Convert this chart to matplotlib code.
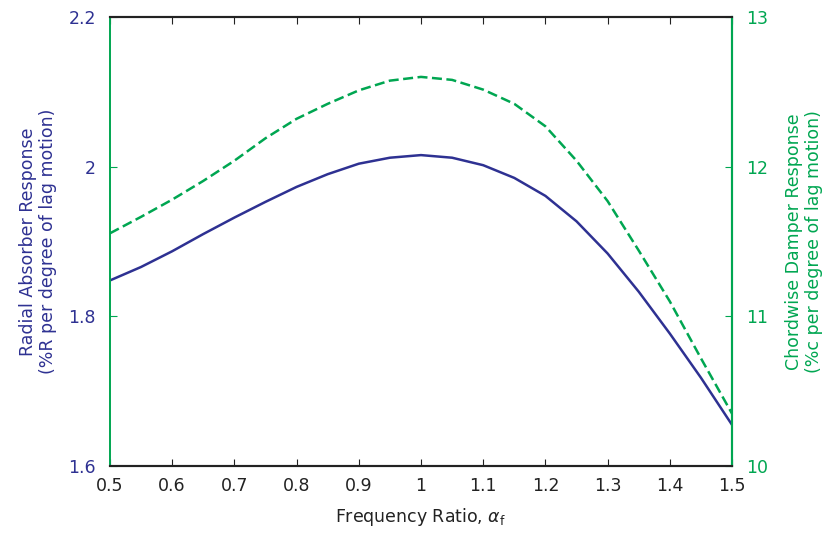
import matplotlib
matplotlib.use("Agg")
import matplotlib.pyplot as plt

plt.rcParams['font.family'] = ['DejaVu Sans']

freq_ratio = [0.50, 0.55, 0.60, 0.65, 0.70, 0.75, 0.80, 0.85, 0.90, 0.95, 1.00,
              1.05, 1.10, 1.15, 1.20, 1.25, 1.30, 1.35, 1.40, 1.45, 1.50]
radial_resp = [1.848, 1.866, 1.887, 1.910, 1.932, 1.953, 1.973, 1.990, 2.004, 2.012, 2.0155,
               2.012, 2.002, 1.985, 1.961, 1.927, 1.884, 1.833, 1.777, 1.718, 1.655]
chord_resp = [11.555, 11.665, 11.78, 11.905, 12.04, 12.19, 12.32, 12.42, 12.51, 12.575, 12.60,
              12.58, 12.515, 12.42, 12.27, 12.04, 11.77, 11.44, 11.10, 10.72, 10.35]

x_ticks = [0.5, 0.6, 0.7, 0.8, 0.9, 1.0, 1.1, 1.2, 1.3, 1.4, 1.5]
x_labels = ['0.5', '0.6', '0.7', '0.8', '0.9', '1', '1.1', '1.2', '1.3', '1.4', '1.5']
left_ticks = [1.6, 1.8, 2.0, 2.2]
left_labels = ['1.6', '1.8', '2', '2.2']
right_ticks = [10, 11, 12, 13]

blue = '#2e3192'
green = '#00a651'
dark = '#222222'

fig = plt.figure(figsize=(8.25, 5.39), dpi=100)
ax = fig.add_axes([0.1333, 0.1354, 0.754, 0.833])
ax2 = ax.twinx()

ax.plot(freq_ratio, radial_resp, color=blue, lw=1.8)
ax2.plot(freq_ratio, chord_resp, color=green, lw=1.8, dashes=(4, 1.8))

ax.set_xlim(0.5, 1.5)
ax.set_ylim(1.6, 2.2)
ax2.set_ylim(10, 13)

ax.set_xticks(x_ticks)
ax.set_xticklabels(x_labels)
ax.set_yticks(left_ticks)
ax.set_yticklabels(left_labels)
ax2.set_yticks(right_ticks)

ax.tick_params(axis='x', direction='in', top=True, length=5, pad=8,
               labelsize=12.5, colors=dark)
ax.tick_params(axis='y', direction='in', length=5, pad=10,
               labelsize=12.5, labelcolor=blue, color=green)
ax2.tick_params(axis='y', direction='in', length=5, pad=10,
                labelsize=12.5, labelcolor=green, color=green)

for a in (ax, ax2):
    a.spines['top'].set_color(dark)
    a.spines['bottom'].set_color(dark)
    a.spines['left'].set_color(green)
    a.spines['right'].set_color(green)
    a.spines['top'].set_linewidth(1.5)
    a.spines['bottom'].set_linewidth(1.5)
    a.spines['left'].set_linewidth(1.2)
    a.spines['right'].set_linewidth(1.5)

ax.set_xlabel(r'Frequency Ratio, $\alpha_\mathrm{f}$', fontsize=12.5, color=dark, labelpad=8)
ax.set_ylabel('Radial Absorber Response\n(%R per degree of lag motion)',
              fontsize=12.5, color=blue, labelpad=8)
ax2.set_ylabel('Chordwise Damper Response\n(%c per degree of lag motion)',
               fontsize=12.5, color=green, labelpad=12)

fig.savefig('out.png', dpi=100)
